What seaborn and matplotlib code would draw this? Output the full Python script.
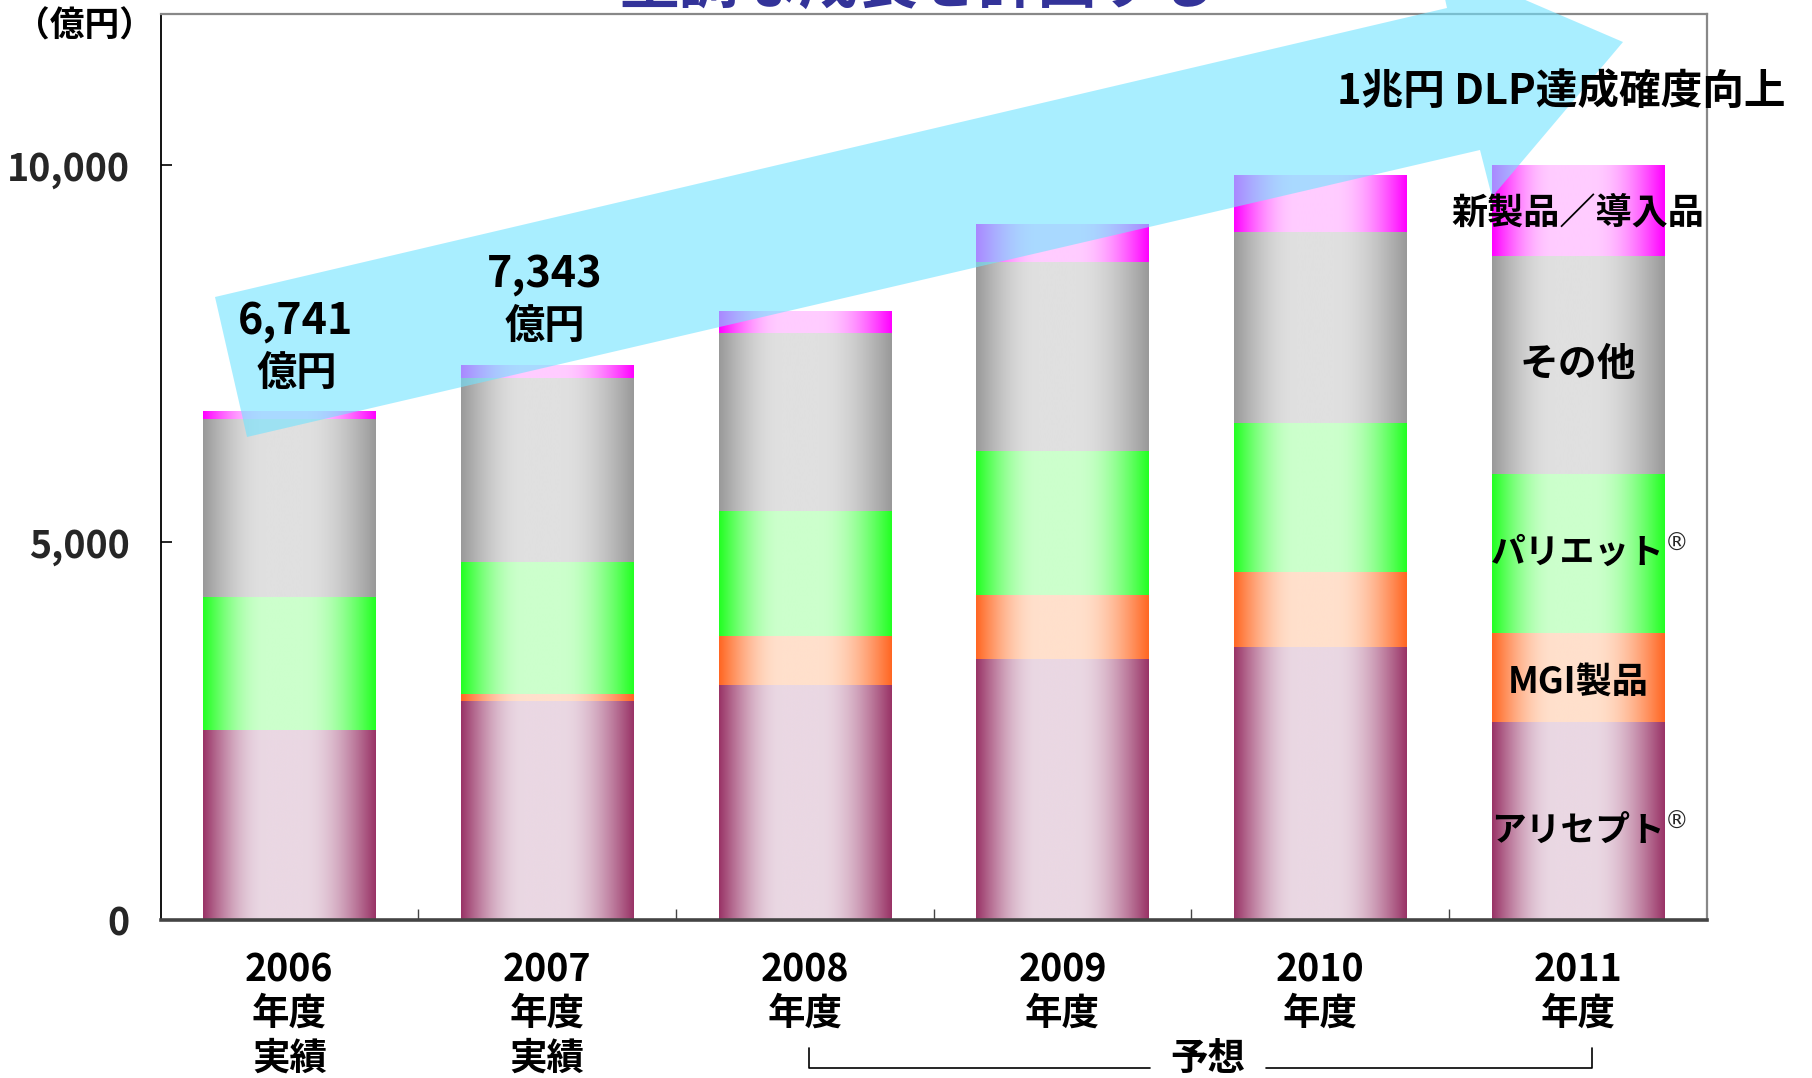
import numpy as np
import pandas as pd
import seaborn as sns
import matplotlib
matplotlib.use("Agg")
import matplotlib.pyplot as plt
import matplotlib.transforms as mtransforms
from matplotlib.patches import Polygon
from matplotlib.colors import to_rgb

# data (億円)
years = ["2006", "2007", "2008", "2009", "2010", "2011"]
year_unit = ["年度"] * 6
year_notes = ["実績", "実績", "", "", "", ""]
aricept = [2510, 2900, 3112, 3456, 3608, 2615]
mgi = [0, 93, 640, 841, 994, 1177]
pariet = [1762, 1745, 1668, 1911, 1973, 2110]
other = [2362, 2437, 2357, 2507, 2538, 2890]
new_products = [107, 168, 293, 505, 749, 1208]

layer_names = ["アリセプト", "MGI製品", "パリエット", "その他", "新製品／導入品"]
layer_marks = ["®", "", "®", "", ""]
edge_colors = ["#993366", "#FF6622", "#22FF22", "#999999", "#FF00FF"]
center_colors = ["#EAD8E3", "#FFE0CC", "#CCFFCC", "#E0E0E0", "#FFCCFF"]

df = pd.DataFrame({"year": years, "アリセプト": aricept, "MGI製品": mgi,
                   "パリエット": pariet, "その他": other, "新製品／導入品": new_products})
cum = df[layer_names].cumsum(axis=1)


def shade(edge, center, n=300):
    """horizontal cylinder-like gradient: dark edges, light middle"""
    t = np.linspace(0, 1, n)
    w = np.interp(t, [0, 0.36, 0.58, 1], [0, 1, 1, 0])
    w = np.sin(w * np.pi / 2)
    e, c = np.array(to_rgb(edge)), np.array(to_rgb(center))
    return (e + (c - e) * w[:, None])[None, :, :]


sns.set_style("ticks")
plt.rcParams["font.family"] = ["Noto Sans CJK JP", "DejaVu Sans"]
W, H = 1812, 1078
fig = plt.figure(figsize=(W / 100, H / 100), dpi=100)
ax = fig.add_axes([0.0886, 0.147, 0.8534, 0.840])

# stacked bars: draw cumulative totals from the top layer down, then paint gradients
for name, edge, center in reversed(list(zip(layer_names, edge_colors, center_colors))):
    n0 = len(ax.patches)
    sns.barplot(x=df["year"], y=cum[name], color=edge, saturation=1, width=0.67,
                errorbar=None, ax=ax)
    for p in ax.patches[n0:]:
        x0, w, h = p.get_x(), p.get_width(), p.get_height()
        ax.imshow(shade(edge, center), extent=[x0, x0 + w, 0, h], aspect="auto",
                  interpolation="bilinear", zorder=2)
        p.set_visible(False)

ax.set_xlim(-0.5, 5.5)
ax.set_ylim(0, 12000)
ax.set_xlabel("")
ax.set_ylabel("")
ax.set_yticks([0, 5000, 10000])
ax.set_yticklabels([f"{v:,}" for v in [0, 5000, 10000]], fontsize=27, fontweight="bold")
ax.set_xticks(np.arange(0.5, 5, 1))
ax.set_xticklabels([])
ax.tick_params(axis="x", direction="in", length=8, width=1, color="#444444")
ax.tick_params(axis="y", direction="in", length=8, width=1.2, pad=22, color="black")

for s in ["top", "right"]:
    ax.spines[s].set_color("#888888")
    ax.spines[s].set_linewidth(1.6)
ax.spines["left"].set_color("black")
ax.spines["left"].set_linewidth(1.3)
ax.spines["bottom"].set_color("#444444")
ax.spines["bottom"].set_linewidth(2.6)

# big growth arrow (decoration, figure pixels)
arrow_px = [(215, 297), (247, 437), (1480, 150), (1492, 197), (1623, 42), (1437, -38), (1447, 8)]
arrow_xy = [(x / W, 1 - y / H) for x, y in arrow_px]
ax.add_patch(Polygon(arrow_xy, closed=True, transform=fig.transFigure, facecolor="#71E3FF",
                     alpha=0.6, edgecolor="none", clip_on=False, zorder=3))

bold = dict(fontweight="bold", color="black", zorder=6)

# x category labels
trans = mtransforms.blended_transform_factory(ax.transData, ax.transAxes)
for i, (yr, unit, note) in enumerate(zip(years, year_unit, year_notes)):
    ax.text(i, -0.0558, yr, transform=trans, ha="center", va="center", fontsize=27, **bold)
    ax.text(i, -0.1033, unit, transform=trans, ha="center", va="center", fontsize=27, **bold)
    if note:
        ax.text(i, -0.1530, note, transform=trans, ha="center", va="center", fontsize=27, **bold)

# forecast bracket
ax.text(3.564, -0.1530, "予想", transform=trans, ha="center", va="center", fontsize=27, **bold)
ax.plot([2.016, 2.016, 3.339], [-0.142, -0.164, -0.164], transform=trans, color="black",
        lw=1.2, clip_on=False)
ax.plot([3.789, 5.054, 5.054], [-0.164, -0.164, -0.142], transform=trans, color="black",
        lw=1.2, clip_on=False)

# totals for actual years
totals = cum[layer_names[-1]]
ax.text(0.022, 7932, f"{int(totals[0]):,}", ha="center", va="center", fontsize=31, **bold)
ax.text(0.03, 7243, "億円", ha="center", va="center", fontsize=29, **bold)
ax.text(0.992, 8555, f"{int(totals[1]):,}", ha="center", va="center", fontsize=31, **bold)
ax.text(0.992, 7853, "億円", ha="center", va="center", fontsize=29, **bold)

# segment names on the 2011 bar
last = len(years) - 1
mids = (cum.iloc[last] - df[layer_names].iloc[last] / 2).values
offsets = [-120, -60, 20, 10, -30]
sizes = [25, 26, 25, 28, 26]
for name, mark, mid, off, fs in zip(layer_names, layer_marks, mids, offsets, sizes):
    t = ax.text(last + 0.0, mid + off, name, ha="center", va="center", fontsize=fs, **bold)
    if mark:
        ax.annotate(mark, xy=(1, 1), xycoords=t, xytext=(0, 2), textcoords="offset points",
                    ha="left", va="top", fontsize=17, family="DejaVu Sans", zorder=6)

ax.text(1561 / W, 1 - 92 / H, "1兆円 DLP達成確度向上", transform=fig.transFigure,
        ha="center", va="center", fontsize=30, **bold)
ax.text(85 / W, 1 - 26 / H, "（億円）", transform=fig.transFigure,
        ha="center", va="center", fontsize=25, **bold)

# title sits mostly above the canvas, only its lower edge shows
fig.text(0.5066, 0.9972, "堅調な成長を計画する", ha="center", va="baseline",
         fontsize=43, fontweight="bold", color="#333399")

fig.savefig("out.png", dpi=100)
